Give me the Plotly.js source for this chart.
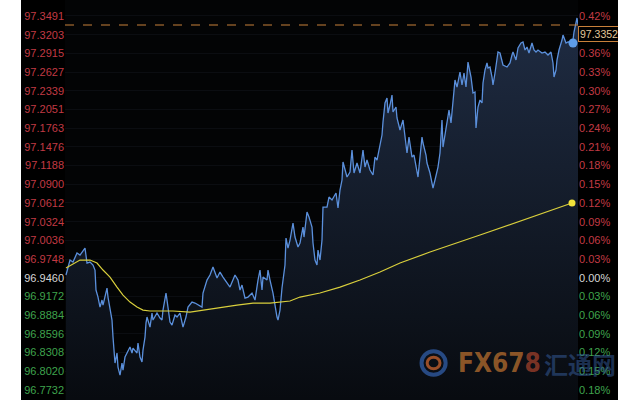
<!DOCTYPE html>
<html><head><meta charset="utf-8">
<script src="https://cdn.plot.ly/plotly-3.0.1.min.js"></script>
<style>
html,body{margin:0;padding:0;background:#fff;width:640px;height:400px;overflow:hidden}
#chart{position:absolute;left:21px;top:0;width:597px;height:400px}
</style></head>
<body><div id="chart"></div>
<script>
const minutes = [0,4,7,11,14,17,19,21,24,27,29,30,32,34,36,37,39,41,42,44,46,47,49,51,52,54,56,57,59,61,64,66,67,71,72,74,76,77,79,80,81,84,86,87,91,94,96,97,100,101,104,106,109,111,114,117,120,122,126,129,132,136,137,141,144,147,151,154,157,161,164,169,172,174,176,179,182,186,189,192,194,196,197,201,202,204,207,211,212,214,216,219,220,222,224,227,229,232,234,237,238,241,243,246,247,249,251,252,254,256,257,261,263,266,268,270,272,274,276,277,281,284,286,288,291,294,297,299,301,304,307,309,311,314,316,317,319,321,322,324,326,327,330,331,334,337,339,341,343,346,348,350,352,356,357,360,361,364,366,367,369,372,374,376,377,379,381,383,385,387,389,391,392,394,396,398,400,402,405,407,409,410,412,414,416,417,419,421,422,424,426,427,429,431,432,434,436,437,441,444,446,447,450,452,455,457,459,461,463,466,468,470,472,476,479,482,485,487,488,490,491,493,496,497,500,502,505,507,508,510,511,512];
const prices = [96.9502,96.9733,96.9702,96.9841,96.9810,96.9887,96.9918,96.9687,96.9702,96.9656,96.9579,96.9271,96.9163,96.9009,96.9117,96.9040,96.9194,96.9302,96.9163,96.8994,96.8809,96.8547,96.8147,96.8301,96.8085,96.7962,96.8147,96.8039,96.8239,96.8301,96.8393,96.8301,96.8378,96.8301,96.8455,96.8239,96.8162,96.8347,96.8547,96.8763,96.8855,96.8701,96.8917,96.8809,96.8917,96.8840,96.8809,96.8963,96.9225,96.9117,96.8778,96.8732,96.8886,96.8855,96.8917,96.8701,96.8855,96.9009,96.9086,96.9071,96.9040,96.9009,96.9225,96.9425,96.9502,96.9625,96.9456,96.9548,96.9471,96.9379,96.9317,96.9502,96.9425,96.9271,96.9348,96.9148,96.9163,96.9225,96.9117,96.9425,96.9579,96.9271,96.9471,96.9425,96.9579,96.9425,96.9225,96.8855,96.8809,96.8963,96.9302,96.9656,97.0072,96.9918,97.0041,97.0303,97.0087,96.9933,96.9995,97.0241,97.0087,97.0472,97.0395,97.0241,96.9995,96.9733,96.9656,96.9887,96.9733,97.0041,97.0549,97.0549,97.0703,97.0657,97.0703,97.0765,97.0534,97.0811,97.0965,97.1242,97.1011,97.1088,97.1427,97.1073,97.1227,97.1073,97.1427,97.1165,97.1273,97.1119,97.1042,97.1319,97.1273,97.1535,97.1658,97.1858,97.2151,97.2228,97.1997,97.2120,97.2274,97.2012,97.2089,97.1920,97.1735,97.1889,97.1581,97.1381,97.1627,97.1319,97.1350,97.1165,97.1011,97.1627,97.1535,97.1350,97.1227,97.1073,97.0919,97.0842,97.0965,97.1165,97.1381,97.1889,97.1473,97.1689,97.1843,97.2043,97.1843,97.2228,97.2505,97.2397,97.2459,97.2628,97.2428,97.2613,97.2397,97.2782,97.2551,97.2305,97.2320,97.1766,97.2089,97.2197,97.2151,97.2459,97.2659,97.2767,97.2690,97.2705,97.2551,97.2428,97.2613,97.2859,97.2936,97.2921,97.2782,97.2736,97.2705,97.2767,97.2890,97.2936,97.2813,97.2998,97.3075,97.3090,97.2967,97.3013,97.2921,97.3075,97.2967,97.2936,97.2967,97.2921,97.2936,97.2890,97.2936,97.2767,97.2551,97.2659,97.2813,97.2967,97.3121,97.3198,97.3075,97.3090,97.3090,97.3121,97.3244,97.3383,97.3460,97.3352];
const maMinutes = [0,14,24,31,37,44,51,57,64,71,77,84,94,107,124,137,154,171,187,204,224,234,254,274,294,314,334,364,414,464,506];
const maValues = [96.9610,96.9733,96.9733,96.9687,96.9579,96.9471,96.9317,96.9194,96.9086,96.9009,96.8963,96.8948,96.8948,96.8948,96.8932,96.8963,96.9009,96.9040,96.9071,96.9071,96.9102,96.9163,96.9225,96.9317,96.9425,96.9548,96.9687,96.9856,97.0118,97.0380,97.0612];
const dotMinutes = [507];
const dotPrices = [97.3075];
const lastPrice = 97.3352;
const basePrice = 96.9460;
const leftTickLabels = ['97.3491','97.3203','97.2915','97.2627','97.2339','97.2051','97.1763','97.1476','97.1188','97.0900','97.0612','97.0324','97.0036','96.9748','96.9460','96.9172','96.8884','96.8596','96.8308','96.8020','96.7732'];
const rightTickLabels = ['0.42%','0.39%','0.36%','0.33%','0.30%','0.27%','0.24%','0.21%','0.18%','0.15%','0.12%','0.09%','0.06%','0.03%','0.00%','0.03%','0.06%','0.09%','0.12%','0.15%','0.18%'];

const RED = '#c23a44', GREEN = '#3fa34d', NEUTRAL = '#d6d6d6';
const tickVals = leftTickLabels.map(Number);
function col(v){ return v > basePrice + 1e-9 ? RED : (v < basePrice - 1e-9 ? GREEN : NEUTRAL); }
const leftText = leftTickLabels.map((s,i)=>`<span style="color:${col(tickVals[i])}">${s}</span>`);
const rightText = rightTickLabels.map((s,i)=>`<span style="color:${col(tickVals[i])}">${s}</span>`);
const yRange = [96.7578, 97.3737];

const traces = [
  {x: minutes, y: prices, type:'scatter', mode:'lines', line:{color:'#5b90dc', width:1.3},
   fill:'tozeroy', fillgradient:{type:'vertical', start:96.76, stop:97.35,
     colorscale:[[0,'#080b10'],[1,'#1f2c43']]}, hoverinfo:'skip'},
  {x: maMinutes, y: maValues, type:'scatter', mode:'lines', line:{color:'#d9cf3c', width:1.2}, hoverinfo:'skip'},
  {x: [maMinutes[maMinutes.length-1]], y: [maValues[maValues.length-1]], type:'scatter', mode:'markers', marker:{color:'#f2e23a', size:7}},
  {x: dotMinutes, y: dotPrices, type:'scatter', mode:'markers', marker:{color:'#5e9de8', size:9}},
  {x: [minutes[0]], y: [prices[0]], yaxis:'y2', type:'scatter', mode:'markers', marker:{opacity:0}, hoverinfo:'skip'}
];

const layout = {
  width:597, height:400, showlegend:false,
  paper_bgcolor:'#000', plot_bgcolor:'#030405',
  margin:{l:44, r:40, t:0, b:0, pad:0},
  xaxis:{range:[-1,512], showgrid:false, zeroline:false, showticklabels:false, ticks:'', showline:false, fixedrange:true},
  yaxis:{range:yRange, tickvals:tickVals, ticktext:leftText, showgrid:true, gridcolor:'#0b0d11', gridwidth:1,
    zeroline:false, ticks:'', showline:false, tickfont:{family:'Liberation Sans, Arial, sans-serif', size:11}, ticklabelstandoff:0},
  yaxis2:{range:yRange, overlaying:'y', side:'right', tickvals:tickVals, ticktext:rightText, showgrid:false,
    zeroline:false, ticks:'', showline:false, tickfont:{family:'Liberation Sans, Arial, sans-serif', size:11}, ticklabelstandoff:0},
  shapes:[
    {type:'line', xref:'paper', x0:0, x1:1, yref:'y', y0:lastPrice, y1:lastPrice, line:{color:'#c8803a', width:1, dash:'dash'}},
    {type:'circle', xref:'paper', yref:'paper', x0:0.695, x1:0.742, y0:0.063, y1:0.122, line:{color:'rgba(45,85,150,0.85)', width:4}},
    {type:'circle', xref:'paper', yref:'paper', x0:0.706, x1:0.731, y0:0.078, y1:0.107, line:{color:'rgba(190,95,45,0.8)', width:3}}
  ],
  annotations:[
    {xref:'paper', x:1, xanchor:'left', yref:'y', y:lastPrice, yanchor:'top', yshift:-1, text:'97.3352', showarrow:false,
     font:{family:'Liberation Sans, Arial, sans-serif', size:10.5, color:'#e3c79a'}, bgcolor:'#000', bordercolor:'#c8803a', borderwidth:1, borderpad:1},
    {xref:'paper', x:0.762, xanchor:'left', yref:'paper', y:0.092, yanchor:'middle', showarrow:false,
     text:'<b>FX67<span style="color:rgba(180,70,45,0.85)">8</span></b>', font:{family:'DejaVu Sans Condensed, Liberation Sans Narrow, sans-serif', size:26, color:'rgba(175,105,45,0.8)'}},
    {xref:'paper', x:0.93, xanchor:'left', yref:'paper', y:0.092, yanchor:'middle', showarrow:false,
     text:'<b>汇通网</b>', font:{family:'Noto Sans CJK SC', size:24, color:'rgba(55,95,160,0.5)'}}
  ]
};
Plotly.newPlot('chart', traces, layout, {displayModeBar:false, staticPlot:true});
</script>
</body></html>
